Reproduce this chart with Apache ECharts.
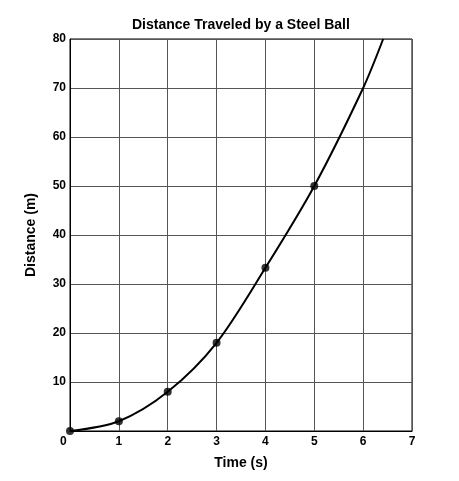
<!DOCTYPE html>
<html>
<head>
<meta charset="utf-8">
<script src="https://cdn.jsdelivr.net/npm/echarts@6/dist/echarts.min.js"></script>
<style>
html,body{margin:0;padding:0;background:#fff;}
#chart{width:459px;height:481px;}
</style>
</head>
<body>
<div id="chart"></div>
<script>
// measured points (s, m)
var times = [0, 1, 2, 3, 4, 5];
var distances = [0, 2, 8, 18, 33.3, 50];

// best-fit curve
var curveTimes = [0, 1, 2, 3, 4, 5, 6, 6.41];
var curveDistances = [0, 2, 8, 18, 33.3, 50, 70, 80];

var xTicks = [0, 1, 2, 3, 4, 5, 6, 7];
var yTicks = [0, 10, 20, 30, 40, 50, 60, 70, 80];

var chart = echarts.init(document.getElementById("chart"));

var pts = times.map(function(t, i){ return [t, distances[i]]; });
var curve = curveTimes.map(function(t, i){ return [t, curveDistances[i]]; });

var font = "Liberation Sans";

option = {
	animation: false,
	backgroundColor: '#fff',
	title: {
		text: 'Distance Traveled by a Steel Ball',
		left: 127,
		top: 13,
		textStyle: {fontFamily: font, fontWeight: 'bold', fontSize: 14, color: '#000'}
	},
	grid: {left: 70, right: 47, top: 39, bottom: 50, show: true, borderColor: '#000', borderWidth: 1},
	xAxis: {
		type: 'value',
		min: xTicks[0],
		max: xTicks[xTicks.length - 1],
		interval: 1,
		name: 'Time (s)',
		nameLocation: 'middle',
		nameGap: 25,
		nameTextStyle: {fontFamily: font, fontWeight: 'bold', fontSize: 14, color: '#000'},
		axisLine: {lineStyle: {color: '#000'}},
		axisTick: {show: false},
		axisLabel: {fontFamily: font, fontWeight: 'bold', fontSize: 12, color: '#000', margin: 5,
			formatter: function(v){ return v === 0 ? '0    ' : String(v); }},
		splitLine: {lineStyle: {color: '#555', width: 1}}
	},
	yAxis: {
		type: 'value',
		min: yTicks[0],
		max: yTicks[yTicks.length - 1],
		interval: 10,
		name: 'Distance (m)',
		nameLocation: 'middle',
		nameGap: 32,
		nameTextStyle: {fontFamily: font, fontWeight: 'bold', fontSize: 14, color: '#000'},
		axisLine: {lineStyle: {color: '#000'}},
		axisTick: {show: false},
		axisLabel: {fontFamily: font, fontWeight: 'bold', fontSize: 12, color: '#000', margin: 4,
			formatter: function(v){ return v === 0 ? '' : String(v); }},
		splitLine: {lineStyle: {color: '#555', width: 1}}
	},
	series: [
		{
			name: 'curve',
			type: 'line',
			data: curve,
			smooth: 0.3,
			showSymbol: false,
			lineStyle: {color: '#000', width: 2},
			silent: true
		},
		{
			name: 'points',
			type: 'scatter',
			data: pts,
			symbolSize: 8,
			itemStyle: {color: '#000'}
		}
	]
};
chart.setOption(option);
</script>
</body>
</html>
